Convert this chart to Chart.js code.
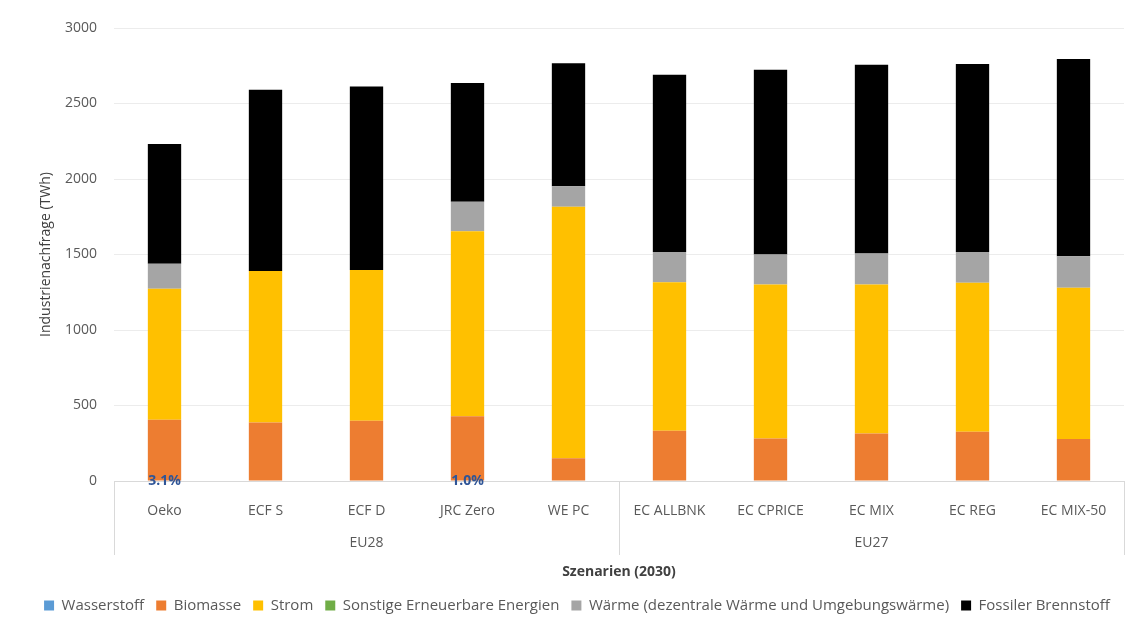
<!DOCTYPE html>
<html>
<head>
<meta charset="utf-8">
<script src="https://cdn.jsdelivr.net/npm/chart.js@4.4.0/dist/chart.umd.min.js"></script>
<style>
  html, body { margin: 0; padding: 0; background: #fff; }
  #wrap { width: 1145px; height: 627px; position: relative; }
</style>
</head>
<body>
<div id="wrap"><canvas id="chart"></canvas></div>
<script>
// Szenarien und Regionen
const scenarios = ['Oeko', 'ECF S', 'ECF D', 'JRC Zero', 'WE PC', 'EC ALLBNK', 'EC CPRICE', 'EC MIX', 'EC REG', 'EC MIX-50'];
const regions = ['EU28', 'EU28', 'EU28', 'EU28', 'EU28', 'EU27', 'EU27', 'EU27', 'EU27', 'EU27'];

// Industrienachfrage in TWh
const wasserstoff = [4, 0, 0, 3, 0, 0, 0, 0, 0, 0];
const biomasse    = [401, 388, 399, 425, 150, 332, 282, 315, 326, 278];
const strom       = [869, 1002, 998, 1226, 1666, 985, 1020, 987, 987, 1002];
const sonstige    = [0, 0, 0, 0, 0, 0, 0, 0, 0, 0];
const waerme      = [165, 0, 0, 195, 136, 199, 198, 205, 203, 209];
const fossil      = [793, 1201, 1216, 786, 815, 1174, 1223, 1249, 1245, 1305];

// Anteil Wasserstoff (Beschriftung)
const shareLabels = ['3.1%', '', '', '1.0%', '', '', '', '', '', ''];

const yMax = 3000;
const yStep = 500;

const FONT = '"Open Sans", sans-serif';
const TXT = '#595959';

// group labels (EU28 / EU27) and separators under the x axis
const groupPlugin = {
  id: 'groupLabels',
  afterDraw(chart) {
    const x = chart.scales.x;
    const ctx = chart.ctx;
    const base = chart.chartArea.bottom;
    const w = x.width / scenarios.length;
    ctx.save();
    ctx.strokeStyle = '#d9d9d9';
    ctx.lineWidth = 1;
    ctx.fillStyle = TXT;
    ctx.font = '14px ' + FONT;
    ctx.textAlign = 'center';
    ctx.textBaseline = 'middle';
    let start = 0;
    for (let i = 1; i <= scenarios.length; i++) {
      if (i === scenarios.length || regions[i] !== regions[start]) {
        const left = x.getPixelForValue(start) - w / 2;
        const right = x.getPixelForValue(i - 1) + w / 2;
        [left, right].forEach(px => {
          ctx.beginPath();
          ctx.moveTo(Math.round(px) + 0.5, base);
          ctx.lineTo(Math.round(px) + 0.5, base + 74);
          ctx.stroke();
        });
        const mid = (x.getPixelForValue(start) + x.getPixelForValue(i - 1)) / 2;
        ctx.fillText(regions[start], mid, base + 62);
        start = i;
      }
    }
    ctx.restore();
  }
};

// percentage labels at the bar foot
const shareLabelPlugin = {
  id: 'shareLabels',
  afterDatasetsDraw(chart) {
    const x = chart.scales.x, y = chart.scales.y;
    const ctx = chart.ctx;
    ctx.save();
    ctx.font = 'bold 14px ' + FONT;
    ctx.fillStyle = '#2F5597';
    ctx.textAlign = 'center';
    ctx.textBaseline = 'bottom';
    shareLabels.forEach((lbl, i) => {
      if (!lbl) return;
      ctx.fillText(lbl, x.getPixelForValue(i), y.getPixelForValue(0) + 7);
    });
    ctx.restore();
  }
};

const ds = (label, data, color) => ({
  label: label,
  data: data,
  backgroundColor: color,
  borderWidth: 0,
  categoryPercentage: 0.33,
  barPercentage: 1.0
});

new Chart(document.getElementById('chart'), {
  type: 'bar',
  data: {
    labels: scenarios,
    datasets: [
      ds('Wasserstoff', wasserstoff, '#5B9BD5'),
      ds('Biomasse', biomasse, '#ED7D31'),
      ds('Strom', strom, '#FFC000'),
      ds('Sonstige Erneuerbare Energien', sonstige, '#70AD47'),
      ds('Wärme (dezentrale Wärme und Umgebungswärme)', waerme, '#A5A5A5'),
      ds('Fossiler Brennstoff', fossil, '#000000')
    ]
  },
  options: {
    responsive: true,
    maintainAspectRatio: false,
    animation: false,
    layout: { padding: { left: 30, right: 21, top: 28, bottom: 4 } },
    plugins: {
      tooltip: { enabled: false },
      legend: {
        position: 'bottom',
        labels: {
          boxWidth: 10,
          boxHeight: 10,
          padding: 12,
          color: TXT,
          font: { family: FONT, size: 15 }
        }
      }
    },
    scales: {
      x: {
        stacked: true,
        grid: { display: false },
        border: { color: '#d9d9d9' },
        ticks: { color: TXT, padding: 14, font: { family: FONT, size: 14 }, maxRotation: 0 },
        title: {
          display: true,
          text: 'Szenarien (2030)',
          color: '#404040',
          font: { family: FONT, size: 14, weight: 'bold' },
          padding: { top: 0, bottom: 6 }
        },
        afterFit(s) { s.height = s.chart.height - 481 - s.chart.legend.height - 4; }
      },
      y: {
        stacked: true,
        min: 0,
        max: yMax,
        grid: { color: '#ececec', drawTicks: false },
        border: { display: false },
        ticks: {
          stepSize: yStep,
          color: TXT,
          padding: 17,
          font: { family: FONT, size: 14 },
          callback: v => String(v)
        },
        title: {
          display: true,
          text: 'Industrienachfrage (TWh)',
          color: '#404040',
          font: { family: FONT, size: 14 },
          padding: { top: 8, bottom: 0 }
        },
        afterFit(s) { s.width = 84; }
      }
    }
  },
  plugins: [groupPlugin, shareLabelPlugin]
});
</script>
</body>
</html>
